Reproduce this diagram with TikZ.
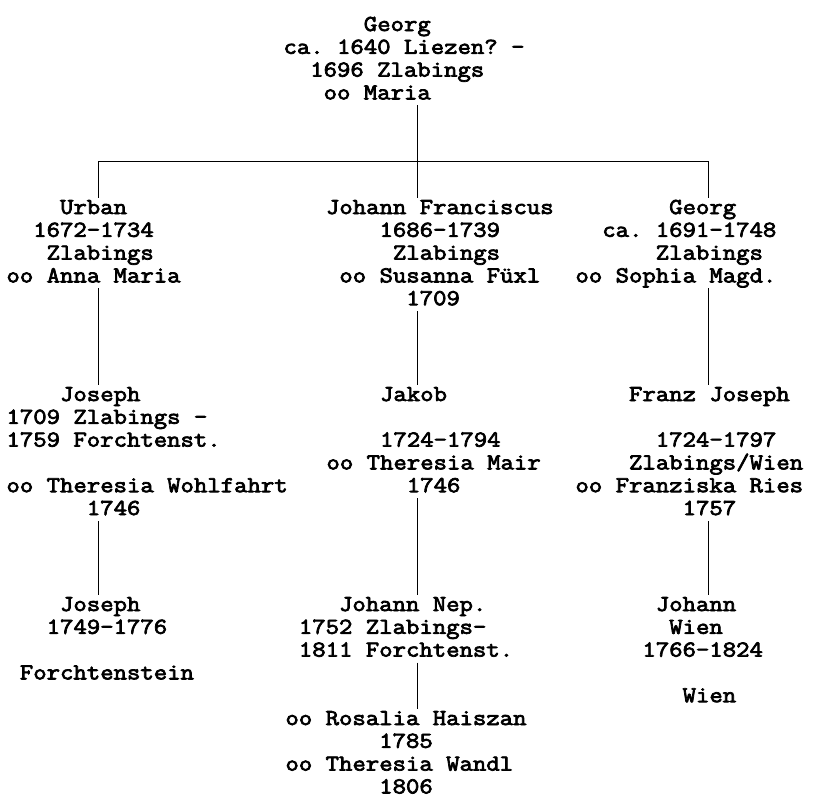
\documentclass[tikz,border=0pt]{standalone}
\usepackage{fontspec}
\newfontfamily\gfont{Latin Modern Mono}[FakeBold=3.2,FakeStretch=1.1404]
\newcommand\pst{\rule[-6pt]{0pt}{22pt}}
\newcommand\pl[2]{\pst\hspace*{\dimexpr\fontcharwd\font`0*#1\relax}#2}
\frenchspacing
\begin{document}
\begin{tikzpicture}[x=1pt,y=-1pt,
  person/.style={anchor=north west,inner sep=0pt,outer sep=0pt,align=left,
    font=\gfont\frenchspacing\fontsize{22.8pt}{22.8pt}\selectfont},
  link/.style={draw=black,line width=1.3pt}]
\useasboundingbox (0,0) rectangle (815,796);
% generation 1
\node[person] (top) at (283.5,15) {\pl{6}{Georg}\\\pl{0}{ca. 1640 Liezen? -}\\\pl{2}{1696 Zlabings}\\\pl{3}{oo Maria}};
% generation 2
\node[person] (urban) at (6.5,198) {\pl{4}{Urban}\\\pl{2}{1672-1734}\\\pl{3}{Zlabings}\\\pl{0}{oo Anna Maria}};
\node[person] (johannf) at (326,198) {\pl{0}{Johann Franciscus}\\\pl{4}{1686-1739}\\\pl{5}{Zlabings}\\\pl{1}{oo Susanna Füxl}\\\pl{6}{1709}};
\node[person] (georg2) at (575.5,198) {\pl{7}{Georg}\\\pl{2}{ca. 1691-1748}\\\pl{6}{Zlabings}\\\pl{0}{oo Sophia Magd.}};
% generation 3
\node[person] (joseph3) at (6.5,385) {\pl{4}{Joseph}\\\pl{0}{1709 Zlabings -}\\\pl{0}{1759 Forchtenst.}\\\pst\\\pl{0}{oo Theresia Wohlfahrt}\\\pl{6}{1746}};
\node[person] (jakob) at (326.5,385) {\pl{4}{Jakob}\\\pst\\\pl{4}{1724-1794}\\\pl{0}{oo Theresia Mair}\\\pl{6}{1746}};
\node[person] (franz) at (575.5,385) {\pl{4}{Franz Joseph}\\\pst\\\pl{6}{1724-1797}\\\pl{4}{Zlabings/Wien}\\\pl{0}{oo Franziska Ries}\\\pl{8}{1757}};
% generation 4
\node[person] (joseph4) at (6.5,595) {\pl{4}{Joseph}\\\pl{3}{1749-1776}\\\pst\\\pl{1}{Forchtenstein}};
\node[person] (jnep) at (285.5,595) {\pl{4}{Johann Nep.}\\\pl{1}{1752 Zlabings-}\\\pl{1}{1811 Forchtenst.}};
\node[person] (jnepm) at (285.5,709) {\pl{0}{oo Rosalia Haiszan}\\\pl{7}{1785}\\\pl{0}{oo Theresia Wandl}\\\pl{7}{1806}};
\node[person] (johannw) at (575.5,595) {\pl{6}{Johann}\\\pl{7}{Wien}\\\pl{5}{1766-1824}\\\pst\\\pl{8}{Wien}};
% connectors
\coordinate (barL) at (98.3,161.5);
\coordinate (barC) at (417.7,161.5);
\coordinate (barR) at (708.7,161.5);
\draw[link] (top.south -| barC) -- (barC);
\draw[link] (barL) -- (barR);
\draw[link] (barL) -- (urban.north -| barL);
\draw[link] (barC) -- (johannf.north -| barC);
\draw[link] (barR) -- (georg2.north -| barR);
\draw[link] (urban.south -| barL) -- (joseph3.north -| barL);
\draw[link] (johannf.south -| barC) -- (jakob.north -| barC);
\draw[link] (georg2.south -| barR) -- (franz.north -| barR);
\draw[link] (joseph3.south -| barL) -- (joseph4.north -| barL);
\draw[link] (jakob.south -| barC) -- (jnep.north -| barC);
\draw[link] (franz.south -| barR) -- (johannw.north -| barR);
\draw[link] (jnep.south -| barC) -- (jnepm.north -| barC);
\end{tikzpicture}
\end{document}
